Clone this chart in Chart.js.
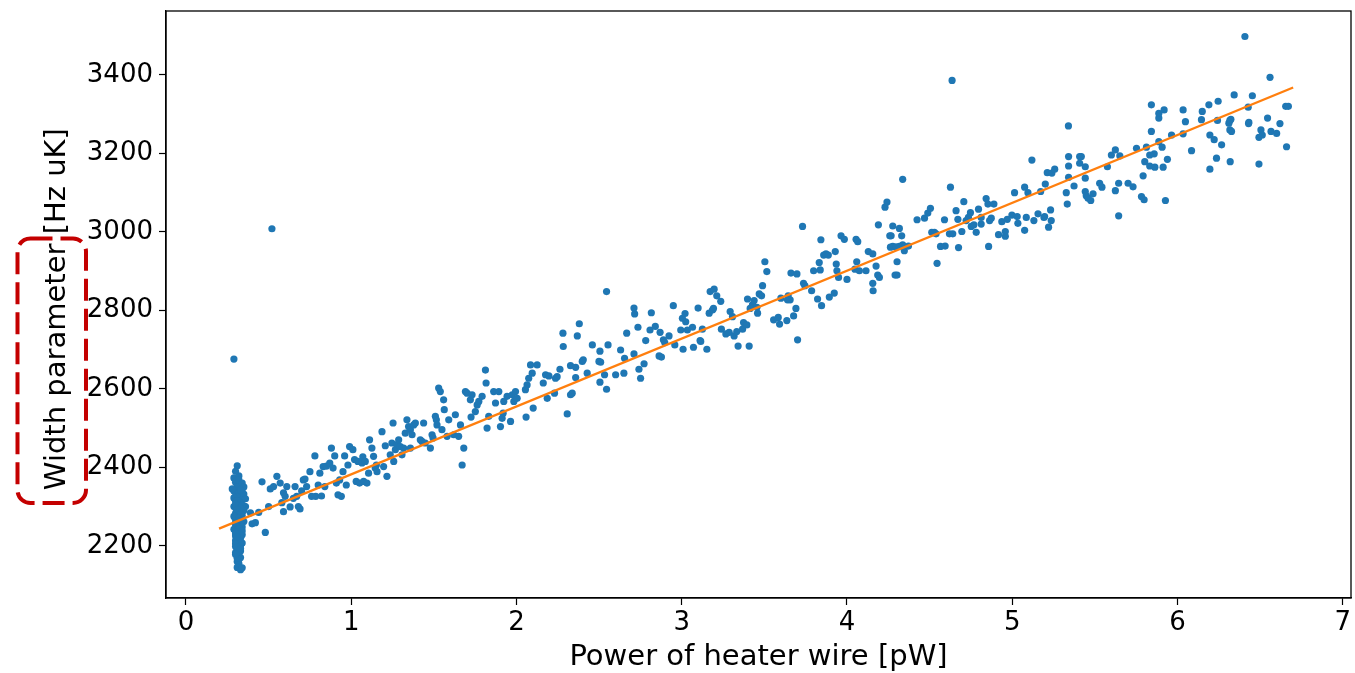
<!DOCTYPE html>
<html>
<head>
<meta charset="utf-8">
<script src="https://cdn.jsdelivr.net/npm/chart.js@4.4.1/dist/chart.umd.min.js"></script>
<style>
  html, body { margin: 0; padding: 0; background: #fff; }
  #wrap { width: 1355px; height: 673px; }
</style>
</head>
<body>
<div id="wrap"><canvas id="heater" width="1355" height="673"></canvas></div>
<script>
// measured points: heater power [pW] and width parameter [Hz uK]
const powerPW = [
  // low power cluster
  0.31, 0.29, 0.30, 0.32, 0.33, 0.31, 0.34, 0.29, 0.30, 0.32,
  0.33, 0.35, 0.31, 0.29, 0.34, 0.30, 0.32, 0.33, 0.31, 0.35,
  0.29, 0.30, 0.32, 0.34, 0.33, 0.31, 0.30, 0.32, 0.34, 0.29,
  0.31, 0.33, 0.30, 0.32, 0.35, 0.31, 0.33, 0.30, 0.32, 0.34,
  0.31, 0.29, 0.33, 0.30, 0.32, 0.31, 0.34, 0.30, 0.32, 0.33,
  0.31, 0.30, 0.32, 0.34, 0.31, 0.33, 0.30, 0.32, 0.31, 0.33,
  0.30, 0.32, 0.31, 0.33, 0.32, 0.31, 0.32, 0.31, 0.33, 0.34,
  0.36, 0.35, 0.36, 0.28, 0.30, 0.32, 0.34, 0.35, 0.33, 0.31,
  0.32, 0.30, 0.34, 0.33, 0.31, 0.30, 0.33, 0.32, 0.34, 0.31,
  0.30, 0.32, 0.34, 0.31, 0.33, 0.30, 0.32, 0.33, 0.31, 0.30,
  0.32, 0.31, 0.33, 0.31, 0.30, 0.29, 0.52,
  // 0.4 - 1.1
  0.46, 0.48, 0.39, 0.40, 0.42, 0.44, 0.50, 0.51, 0.53, 0.55,
  0.57, 0.61, 0.59, 0.60, 0.58, 0.59, 0.63, 0.65, 0.66, 0.67,
  0.68, 0.69, 0.70, 0.71, 0.73, 0.72, 0.75, 0.76, 0.78, 0.785,
  0.80, 0.81, 0.82, 0.83, 0.84, 0.85, 0.87, 0.88, 0.89, 0.90,
  0.91, 0.92, 0.93, 0.94, 0.95, 0.96, 0.97, 0.98, 0.99, 1.01,
  1.02, 1.03, 1.04, 1.05, 1.07,
  // 1.1 - 2.1
  1.065, 1.085, 1.075, 1.095, 1.105, 1.111, 1.125, 1.135, 1.145, 1.156,
  1.152, 1.186, 1.196, 1.206, 1.216, 1.236, 1.246, 1.253, 1.257, 1.267,
  1.277, 1.287, 1.297, 1.307, 1.317, 1.327, 1.337, 1.347, 1.358, 1.368,
  1.358, 1.378, 1.388, 1.418, 1.428, 1.438, 1.448, 1.479, 1.489, 1.495,
  1.509, 1.515, 1.519, 1.529, 1.539, 1.549, 1.559, 1.563, 1.580, 1.590,
  1.620, 1.630, 1.650, 1.661, 1.671, 1.681, 1.691, 1.701, 1.721, 1.725,
  1.731, 1.751, 1.762, 1.772, 1.792, 1.812, 1.816, 1.822, 1.832, 1.862,
  1.873, 1.893, 1.903, 1.913, 1.919, 1.923, 1.943, 1.964, 1.974, 1.994,
  1.984, 2.004, 2.054, 2.058, 2.064, 2.074, 2.085, 2.095, 2.101, 2.125,
  // 2.1 - 3.1
  2.162, 2.176, 2.186, 2.196, 2.230, 2.236, 2.246, 2.263, 2.281, 2.283,
  2.307, 2.327, 2.327, 2.337, 2.358, 2.358, 2.368, 2.380, 2.398, 2.404,
  2.428, 2.459, 2.499, 2.505, 2.509, 2.505, 2.533, 2.545, 2.545, 2.554,
  2.600, 2.630, 2.650, 2.654, 2.667, 2.711, 2.711, 2.715, 2.735, 2.741,
  2.751, 2.772, 2.782, 2.808, 2.816, 2.840, 2.869, 2.863, 2.877, 2.889,
  2.897, 2.923, 2.949, 2.958, 2.994, 3.004, 3.008, 3.020, 3.024, 3.034,
  3.065, 3.071, 3.099, 3.111,
  // 3.1 - 4.3
  3.115, 3.125, 3.152, 3.166, 3.172, 3.186, 3.196, 3.192, 3.212, 3.236,
  3.240, 3.267, 3.287, 3.293, 3.307, 3.317, 3.333, 3.341, 3.368, 3.374,
  3.394, 3.398, 3.408, 3.414, 3.428, 3.438, 3.455, 3.459, 3.469, 3.483,
  3.489, 3.503, 3.515, 3.556, 3.584, 3.592, 3.600, 3.636, 3.640, 3.644,
  3.656, 3.661, 3.677, 3.691, 3.697, 3.701, 3.731, 3.737, 3.745, 3.786,
  3.798, 3.822, 3.832, 3.838, 3.842, 3.846, 3.859, 3.873, 3.887, 3.893,
  3.923, 3.929, 3.935, 3.939, 3.949, 3.964, 3.984, 4.000, 4.048, 4.055,
  4.065, 4.059, 4.075, 4.115, 4.129, 4.156, 4.156, 4.158, 4.176, 4.186,
  4.196, 4.190, 4.230, 4.242, 4.259, 4.263,
  // 4.3 - 5.4
  4.267, 4.277, 4.277, 4.291, 4.297, 4.303, 4.303, 4.317, 4.317, 4.331,
  4.337, 4.337, 4.347, 4.372, 4.424, 4.469, 4.489, 4.505, 4.513, 4.529,
  4.539, 4.545, 4.566, 4.590, 4.594, 4.620, 4.626, 4.640, 4.660, 4.671,
  4.675, 4.695, 4.707, 4.721, 4.735, 4.747, 4.752, 4.768, 4.782, 4.796,
  4.812, 4.812, 4.842, 4.853, 4.857, 4.863, 4.873, 4.889, 4.917, 4.937,
  4.958, 4.958, 4.970, 4.998, 5.014, 5.030, 5.034, 5.075, 5.075, 5.085,
  5.095, 5.119, 5.131, 5.156, 5.172, 5.192, 5.196, 5.200, 5.212, 5.220,
  5.232, 5.236, 5.240, 5.257, 5.327, 5.333, 5.341, 5.341, 5.341, 5.374,
  5.408, 5.408, 5.340, 4.636,
  // 5.4 - 6.7
  5.418, 5.442, 5.442, 5.442, 5.448, 5.459, 5.475, 5.489, 5.529, 5.543,
  5.576, 5.600, 5.624, 5.624, 5.644, 5.651, 5.644, 5.701, 5.731, 5.752,
  5.782, 5.792, 5.798, 5.802, 5.812, 5.832, 5.832, 5.842, 5.842, 5.859,
  5.863, 5.887, 5.887, 5.887, 5.907, 5.913, 5.919, 5.927, 5.939, 5.964,
  6.034, 6.034, 6.048, 6.085, 6.145, 6.150, 6.190, 6.196, 6.196, 6.222,
  6.236, 6.242, 6.246, 6.267, 6.311, 6.317, 6.317, 6.323, 6.327, 6.319,
  6.343, 6.428, 6.432, 6.453, 6.493, 6.493, 6.505, 6.513, 6.545, 6.560,
  6.566, 6.408, 6.600, 6.620, 6.655, 6.671, 6.660, 6.430
];

const widthParam = [
  2404, 2373, 2362, 2378, 2355, 2350, 2345, 2340, 2335, 2338,
  2330, 2332, 2325, 2322, 2318, 2315, 2312, 2308, 2305, 2302,
  2300, 2297, 2295, 2292, 2289, 2286, 2283, 2280, 2277, 2275,
  2272, 2270, 2267, 2264, 2262, 2259, 2256, 2253, 2250, 2248,
  2245, 2242, 2240, 2237, 2234, 2231, 2228, 2225, 2222, 2219,
  2216, 2213, 2210, 2207, 2204, 2201, 2198, 2195, 2191, 2187,
  2183, 2179, 2175, 2170, 2165, 2160, 2154, 2145, 2139, 2144,
  2320, 2290, 2300, 2345, 2390, 2368, 2360, 2350, 2342, 2315,
  2302, 2306, 2304, 2296, 2292, 2275, 2281, 2270, 2265, 2263,
  2258, 2244, 2238, 2236, 2228, 2231, 2215, 2209, 2222, 2205,
  2185, 2196, 2193, 2168, 2178, 2676, 3008,

  2363, 2234, 2284, 2256, 2259, 2285, 2300, 2345, 2351, 2377,
  2360, 2351, 2335, 2326, 2310, 2287, 2299, 2321, 2351, 2326,
  2300, 2294, 2340, 2368, 2351, 2370, 2389, 2326, 2429, 2326,
  2355, 2385, 2327, 2402, 2351, 2403, 2411, 2449, 2398, 2429,
  2360, 2330, 2368, 2326, 2389, 2429, 2355, 2406, 2453, 2445,
  2420, 2364, 2415, 2360, 2427,

  2411, 2415, 2364, 2360, 2385, 2470, 2449, 2428, 2398, 2389,
  2406, 2491, 2402, 2455, 2377, 2432, 2462, 2513, 2415, 2445,
  2458, 2470, 2453, 2432, 2449, 2487, 2521, 2504, 2496, 2483,
  2449, 2508, 2513, 2470, 2466, 2513, 2462, 2449, 2483, 2475,
  2530, 2521, 2508, 2602, 2593, 2496, 2572, 2547, 2479, 2521,
  2483, 2534, 2479, 2508, 2406, 2449, 2593, 2589, 2572, 2528,
  2585, 2542, 2559, 2568, 2581, 2648, 2615, 2500, 2530, 2593,
  2564, 2593, 2504, 2525, 2538, 2568, 2581, 2517, 2585, 2593,
  2568, 2576, 2598, 2528, 2610, 2627, 2661, 2640, 2551, 2661,

  2615, 2636, 2576, 2633, 2589, 2627, 2631, 2650, 2742, 2708,
  2536, 2659, 2585, 2589, 2655, 2629, 2735, 2766, 2670, 2674,
  2640, 2712, 2670, 2696, 2668, 2617, 2636, 2848, 2599, 2712,
  2636, 2699, 2640, 2678, 2742, 2689, 2806, 2791, 2757, 2650,
  2627, 2664, 2723, 2750, 2794, 2759, 2744, 2684, 2681, 2725,
  2718, 2735, 2812, 2712, 2750, 2780, 2701, 2792, 2771, 2750,
  2757, 2706, 2806, 2723,

  2721, 2752, 2701, 2793, 2848, 2801, 2854, 2805, 2837, 2823,
  2752, 2740, 2744, 2797, 2784, 2735, 2746, 2709, 2752, 2769,
  2763, 2829, 2709, 2805, 2814, 2825, 2808, 2793, 2842, 2837,
  2863, 2924, 2899, 2776, 2782, 2765, 2831, 2774, 2827, 2837,
  2827, 2895, 2786, 2805, 2893, 2725, 3014, 2869, 2863, 2850,
  2901, 2829, 2922, 2903, 2980, 2812, 2941, 2944, 2941, 2834,
  2844, 2950, 2918, 2901, 2884, 2990, 2981, 2879, 2905, 2981,
  2975, 2924, 2901, 2901, 2950, 2944, 2869, 2850, 2913, 2890,
  2884, 3018, 3063, 3076, 2990, 2961,

  2990, 3015, 2963, 2890, 2962, 2924, 2890, 3009, 2963, 2990,
  3134, 2967, 2952, 2964, 3031, 3035, 3048, 3060, 2999, 2999,
  2995, 2920, 2963, 3031, 2964, 2995, 3114, 2995, 3054, 3032,
  2960, 3001, 3077, 3029, 3037, 3049, 3014, 3018, 2999, 3058,
  3020, 3037, 3085, 3071, 2963, 3029, 3035, 3071, 2993, 3026,
  2989, 3001, 3032, 3043, 3100, 3039, 3022, 3114, 3004, 3037,
  3100, 3183, 3029, 3046, 3103, 3037, 3039, 3122, 3151, 3012,
  3056, 3029, 3150, 3160, 3100, 3071, 3192, 3168, 3139, 3117,
  3192, 3175, 3270, 3386,

  3192, 3166, 3137, 3103, 3092, 3086, 3080, 3097, 3124, 3114,
  3166, 3196, 3209, 3105, 3041, 3194, 3124, 3124, 3115, 3213,
  3090, 3143, 3082, 3179, 3216, 3168, 3196, 3256, 3324, 3199,
  3165, 3230, 3290, 3302, 3216, 3165, 3311, 3080, 3185, 3247,
  3250, 3311, 3281, 3207, 3286, 3307, 3324, 3247, 3160, 3235,
  3188, 3284, 3333, 3222, 3277, 3284, 3260, 3287, 3256, 3179,
  3349, 3318, 3279, 3347, 3173, 3241, 3260, 3247, 3290, 3394,
  3256, 3498, 3251, 3276, 3320, 3320, 3217, 3276
];

// linear fit drawn over the points
const fitPower = [0.2, 6.7];
const fitWidth = [2244, 3368];

const xTicks = [0, 1, 2, 3, 4, 5, 6, 7];
const yTicks = [2200, 2400, 2600, 2800, 3000, 3200, 3400];

if (powerPW.length !== widthParam.length) {
  console.error('length mismatch', powerPW.length, widthParam.length);
}

const FONT = "'DejaVu Sans', sans-serif";

var scatterPts = powerPW.map(function (p, i) { return { x: p, y: widthParam[i] }; });
var fitPts = fitPower.map(function (p, i) { return { x: p, y: fitWidth[i] }; });

// full box around the plot, like matplotlib spines
var frameBox = {
  id: 'frameBox',
  afterDraw: function (chart) {
    var a = chart.chartArea, ctx = chart.ctx;
    ctx.save();
    ctx.strokeStyle = '#000';
    ctx.lineWidth = 1.3;
    ctx.strokeRect(a.left, a.top, a.right - a.left, a.bottom - a.top);
    ctx.restore();
  }
};

// red dashed highlight around the y axis title
var labelMark = {
  id: 'labelMark',
  afterDraw: function (chart) {
    var ctx = chart.ctx;
    ctx.save();
    ctx.strokeStyle = '#c40000';
    ctx.lineWidth = 4;
    ctx.setLineDash([22, 8]);
    ctx.beginPath();
    ctx.roundRect(17.5, 238.5, 68.5, 264.5, 13);
    ctx.stroke();
    ctx.restore();
  }
};

function noPad(s) {
  s.paddingTop = 0;
  s.paddingBottom = 0;
  s.paddingLeft = 0;
  s.paddingRight = 0;
}

function plain(v) { return String(v); }

new Chart(document.getElementById('heater').getContext('2d'), {
  type: 'scatter',
  data: {
    datasets: [{
      type: 'line',
      data: fitPts,
      borderColor: '#ff7f0e',
      borderWidth: 2.4,
      pointRadius: 0,
      fill: false,
      order: 0
    }, {
      data: scatterPts,
      backgroundColor: '#1f77b4',
      borderWidth: 0,
      pointRadius: 3.6,
      order: 1
    }]
  },
  options: {
    responsive: false,
    animation: false,
    devicePixelRatio: 1,
    layout: { padding: { top: 11, right: 3, left: 0, bottom: 0 } },
    plugins: { legend: { display: false }, tooltip: { enabled: false } },
    scales: {
      x: {
        type: 'linear',
        min: -0.121,
        max: 7.05,
        afterBuildTicks: function (s) { s.ticks = xTicks.map(function (v) { return { value: v }; }); },
        afterFit: function (s) { s.height = 75; noPad(s); },
        grid: { display: true, drawOnChartArea: false, drawTicks: true, tickLength: 7, color: '#000', tickWidth: 1.2 },
        border: { display: true, color: '#000', width: 1.3 },
        ticks: { font: { family: FONT, size: 26 }, color: '#000', padding: 3, maxRotation: 0, autoSkip: false, callback: plain },
        title: { display: true, text: 'Power of heater wire [pW]', font: { family: FONT, size: 29, lineHeight: 1.0 }, color: '#000', padding: { top: 0, bottom: 1 } }
      },
      y: {
        type: 'linear',
        min: 2067,
        max: 3563,
        afterBuildTicks: function (s) { s.ticks = yTicks.map(function (v) { return { value: v }; }); },
        afterFit: function (s) { s.width = 166; noPad(s); },
        grid: { display: true, drawOnChartArea: false, drawTicks: true, tickLength: 7, color: '#000', tickWidth: 1.2 },
        border: { display: true, color: '#000', width: 1.3 },
        ticks: { font: { family: FONT, size: 26 }, color: '#000', padding: 6, autoSkip: false, callback: plain },
        title: { display: true, text: 'Width parameter [Hz uK] ', font: { family: FONT, size: 29 }, color: '#000', padding: { top: 40, bottom: 0 } }
      }
    }
  },
  plugins: [frameBox, labelMark]
});
</script>
</body>
</html>
